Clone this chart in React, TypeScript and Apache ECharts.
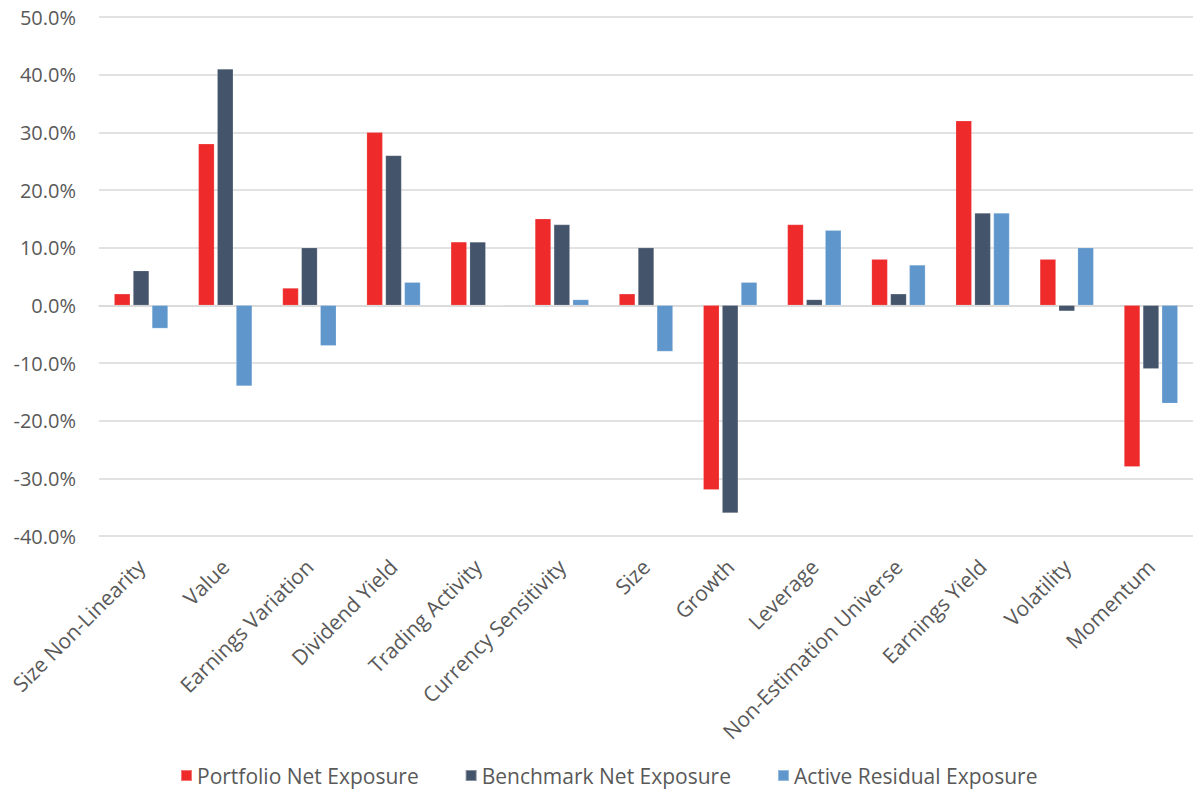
import React, { useEffect, useRef } from "react";
import * as echarts from "echarts";

const categories = [
  "Size Non-Linearity",
  "Value",
  "Earnings Variation",
  "Dividend Yield",
  "Trading Activity",
  "Currency Sensitivity",
  "Size",
  "Growth",
  "Leverage",
  "Non-Estimation Universe",
  "Earnings Yield",
  "Volatility",
  "Momentum",
];

const portfolioNet = [2, 28, 3, 30, 11, 15, 2, -32, 14, 8, 32, 8, -28];
const benchmarkNet = [6, 41, 10, 26, 11, 14, 10, -36, 1, 2, 16, -1, -11];
const activeResidual = [-4, -14, -7, 4, 0, 1, -8, 4, 13, 7, 16, 10, -17];

const yTicks = { min: -40, max: 50, interval: 10 };

const FONT = "'Open Sans', 'Noto Sans', sans-serif";
const TEXT = "#595959";

export default function App() {
  const ref = useRef<HTMLDivElement>(null);

  useEffect(() => {
    if (!ref.current) return;
    const chart = echarts.init(ref.current, null, { renderer: "svg" });

    const bar = (name: string, data: number[], color: string) => ({
      name,
      type: "bar",
      data,
      barWidth: 16,
      barGap: "18%",
      itemStyle: { color, borderColor: "rgba(255,255,255,0.35)", borderWidth: 0.5 },
    });

    chart.setOption({
      animation: false,
      backgroundColor: "#ffffff",
      textStyle: { fontFamily: FONT },
      grid: { left: 99, top: 17, width: 1102, height: 519, containLabel: false },
      legend: {
        left: 175,
        top: 760,
        itemWidth: 11,
        itemHeight: 11,
        itemGap: 46,
        icon: "rect",
        textStyle: { color: TEXT, fontSize: 21, fontFamily: FONT },
        data: ["Portfolio Net Exposure", "Benchmark Net Exposure", "Active Residual Exposure"],
      },
      xAxis: {
        type: "category",
        data: categories,
        axisLine: { onZero: true, lineStyle: { color: "#D9D9D9", width: 1.5 } },
        axisTick: { show: false },
        axisLabel: {
          rotate: 45,
          interval: 0,
          color: TEXT,
          fontSize: 21,
          fontFamily: FONT,
          margin: 27,
        },
        position: "bottom",
      },
      yAxis: {
        type: "value",
        min: yTicks.min,
        max: yTicks.max,
        interval: yTicks.interval,
        axisLine: { show: false },
        axisTick: { show: false },
        splitLine: { lineStyle: { color: "#D9D9D9", width: 1.5 } },
        axisLabel: {
          color: TEXT,
          fontSize: 20,
          fontFamily: FONT,
          margin: 23,
          formatter: (v: number) => v.toFixed(1) + "%",
        },
      },
      series: [
        bar("Portfolio Net Exposure", portfolioNet, "#EE2A2A"),
        bar("Benchmark Net Exposure", benchmarkNet, "#44546A"),
        bar("Active Residual Exposure", activeResidual, "#5F97CC"),
      ],
    });

    return () => chart.dispose();
  }, []);

  return (
    <div
      ref={ref}
      style={{ position: "fixed", left: 0, top: 0, width: 1193, height: 789, background: "#fff" }}
    />
  );
}
